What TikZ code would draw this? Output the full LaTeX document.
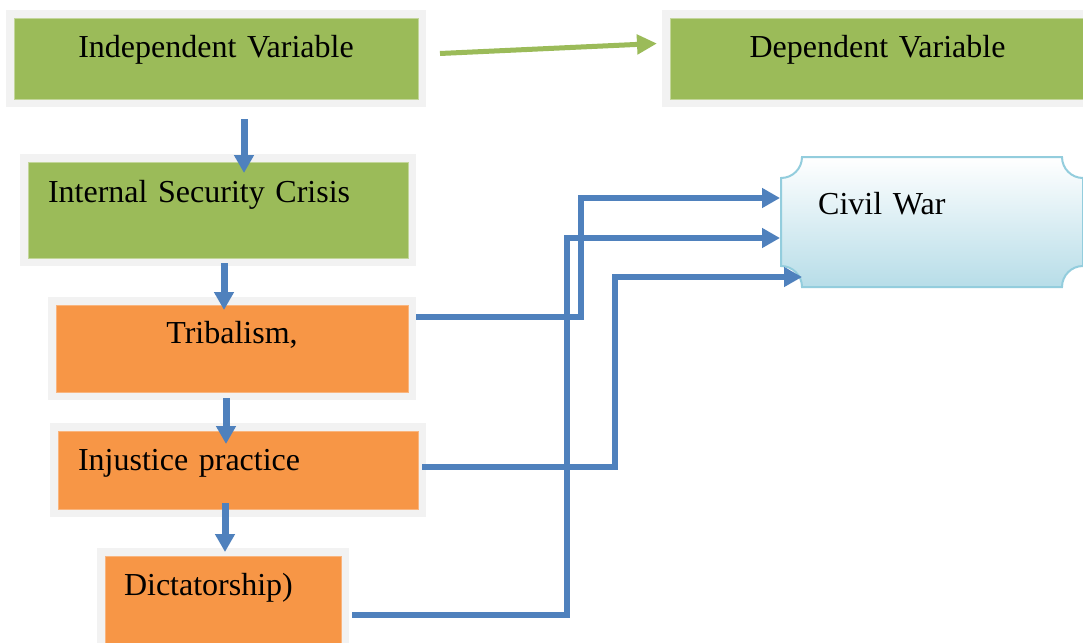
\documentclass[tikz,border=0pt]{standalone}
\usepackage{fontspec}
\setmainfont{Liberation Serif}
\usetikzlibrary{arrows.meta, calc}

\definecolor{boxgreen}{HTML}{9BBB59}
\definecolor{boxorange}{HTML}{F79646}
\definecolor{linkblue}{HTML}{4F81BD}
\definecolor{framegray}{HTML}{F2F2F2}
\definecolor{warline}{HTML}{93CDDD}
\definecolor{warfill}{HTML}{B7DDE8}

\tikzset{
  box/.style={anchor=north west, inner ysep=0pt, outer sep=8pt,
    preaction={draw=framegray, line width=16pt},
    font=\fontsize{32pt}{38pt}\selectfont},
  greenbox/.style={box, fill=boxgreen, draw=boxgreen!60!white, line width=0.8pt},
  orangebox/.style={box, fill=boxorange, draw=boxorange!70!white, line width=0.8pt},
  down/.style={draw=linkblue, line width=7pt, -{Triangle[length=18pt,width=19pt]}},
  link/.style={draw=linkblue, line width=6pt, -{Triangle[length=18pt,width=19pt]}},
  lead/.style={draw=boxgreen, line width=5pt, -{Triangle[length=20pt,width=19pt]}},
}

\begin{document}
\begin{tikzpicture}[x=1pt, y=-1pt]
    % Page
    \fill[white] (0,0) rectangle (1083,642);
    \useasboundingbox (0,0) rectangle (1083,642);

    % Variables
    \node[greenbox, inner xsep=0pt, text width=404pt, align=center, text height=40pt, text depth=41pt] (indep) at (6,10) {Independent Variable};
    \node[greenbox, inner xsep=0pt, text width=415pt, align=center, text height=40pt, text depth=41pt] (dep) at (662,10) {Dependent Variable};

    % Chain of causes
    \node[greenbox, inner xsep=20pt, text width=340pt, align=left, text height=40pt, text depth=56pt] (isc) at (20,154) {Internal Security Crisis};
    \node[orangebox, inner xsep=0pt, text width=352pt, align=center, text height=38pt, text depth=49pt] (trib) at (48,297) {Tribalism,};
    \node[orangebox, inner xsep=20pt, text width=320pt, align=left, text height=39pt, text depth=39pt] (inj) at (50,423) {Injustice practice};
    \node[orangebox, inner xsep=19pt, text width=198pt, align=left, text height=39pt, text depth=52pt] (dict) at (97,548) {Dictatorship)};

    % Outcome (plaque with hollow corners)
    \draw[warline, line width=2pt, top color=white, bottom color=warfill]
        (802,157) -- (1062,157) arc[start angle=180, end angle=270, radius=21pt]
        -- (1083,266) arc[start angle=90, end angle=180, radius=21pt]
        -- (802,287) arc[start angle=0, end angle=90, radius=21pt]
        -- (781,178) arc[start angle=270, end angle=360, radius=21pt] -- cycle;
    \node[anchor=north west, inner xsep=37pt, inner ysep=0pt, text width=228pt, align=left,
          text height=57pt, text depth=73pt, font=\fontsize{32pt}{38pt}\selectfont] (war) at (781,157) {Civil War};

    % Arrows
    \draw[lead] ($(indep.east)+(14,-5)$) -- ($(dep.west)+(-5,-15)$);
    \draw[down] ($(indep.south)+(28,12)$) -- ($(isc.north)+(26,19)$);
    \draw[down] ($(isc.south)+(6,-3)$) -- ($(trib.north)+(-8,13)$);
    \draw[down] ($(trib.south)+(-6,-2)$) -- ($(inj.north)+(-12,21)$);
    \draw[down] ($(inj.south)+(-13,-14)$) -- ($(dict.north)+(2,4)$);

    % Links to the outcome
    \draw[link] ($(trib.north east)+(0,20)$) -- ++(165,0) |- ($(war.north west)+(-1,41)$);
    \draw[link] ($(dict.north east)+(3,67)$) -- ++(215,0) |- ($(war.north west)+(-1,81)$);
    \draw[link] ($(inj.north east)+(-4,44)$) -- ++(193,0) |- ($(war.north west)+(21,120)$);
\end{tikzpicture}
\end{document}
